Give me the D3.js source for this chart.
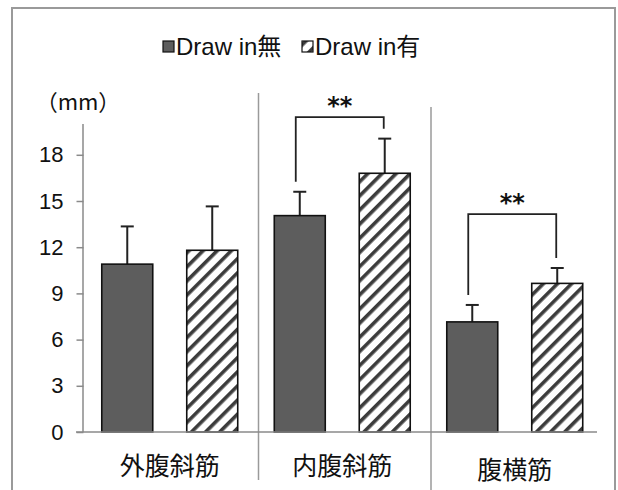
<!DOCTYPE html>
<html>
<head>
<meta charset="utf-8">
<script src="https://cdn.jsdelivr.net/npm/d3@7"></script>
<style>
  html, body { margin: 0; padding: 0; background: #fff; }
  svg { display: block; }
</style>
</head>
<body>
<svg id="chart" width="618" height="490"></svg>
<script>
// Muscle thickness (mm) with and without abdominal draw-in
const categories = ["外腹斜筋", "内腹斜筋", "腹横筋"];
const seriesNames = ["Draw in無", "Draw in有"];
const meansWithout = [10.9, 14.05, 7.15];
const meansWith = [11.8, 16.8, 9.65];
const sdWithout = [2.45, 1.55, 1.1];
const sdWith = [2.85, 2.25, 1.0];
const yTicks = [0, 3, 6, 9, 12, 15, 18];
// significance brackets: category index, bracket level (mm), label
const sigCategory = [1, 2];
const sigLevel = [20.45, 14.15];
const sigLabel = ["**", "**"];

const svg = d3.select("#chart");
const plot = { left: 83.5, right: 601, top: 124, bottom: 432 };

const y = d3.scaleLinear().domain([0, 20]).range([plot.bottom, plot.top]);
const x0 = d3.scaleBand().domain(categories).range([plot.left, plot.right])
  .paddingInner(0).paddingOuter(0);
const x1 = d3.scaleBand().domain(seriesNames).range([0, x0.bandwidth()])
  .paddingInner(0.4).paddingOuter(0.215);

// hatch pattern
const defs = svg.append("defs");
const pat = defs.append("pattern")
  .attr("id", "hatch")
  .attr("patternUnits", "userSpaceOnUse")
  .attr("width", 10).attr("height", 10)
  .attr("patternTransform", "rotate(45)");
pat.append("rect").attr("width", 10).attr("height", 10).attr("fill", "#fff");
pat.append("rect").attr("x", 0).attr("width", 3.6).attr("height", 10).attr("fill", "#3c3c3c");

const fills = ["#5d5d5d", "url(#hatch)"];

// outer frame
svg.append("rect")
  .attr("x", 12).attr("y", 8)
  .attr("width", 603).attr("height", 500)
  .attr("fill", "none")
  .attr("stroke", "#9a9a9a")
  .attr("stroke-width", 2);

// legend
const legendItems = [
  { name: seriesNames[0], fill: fills[0], x: 163 },
  { name: seriesNames[1], fill: fills[1], x: 302 }
];
const lg = svg.append("g").selectAll("g").data(legendItems).join("g")
  .attr("transform", d => `translate(${d.x},0)`);
lg.append("rect")
  .attr("x", 0).attr("y", 41).attr("width", 11).attr("height", 11)
  .attr("fill", d => d.fill)
  .attr("stroke", "#111").attr("stroke-width", 1.2);
lg.append("text")
  .attr("x", 13).attr("y", 55)
  .attr("font-family", "'Liberation Sans', 'Noto Sans CJK JP', sans-serif")
  .attr("font-size", 24)
  .attr("fill", "#111")
  .text(d => d.name);

// unit label
svg.append("text")
  .attr("x", 78).attr("y", 110)
  .attr("text-anchor", "middle")
  .attr("font-family", "'Noto Sans CJK JP', sans-serif")
  .attr("font-size", 22)
  .attr("fill", "#111")
  .text("（mm）");

// category dividers
const dividerTop = [93, 107];
categories.slice(0, 2).forEach((c, i) => {
  const xx = x0(c) + x0.bandwidth() + 2.5;
  svg.append("line")
    .attr("x1", xx).attr("x2", xx)
    .attr("y1", dividerTop[i]).attr("y2", i === 0 ? 480 : 492)
    .attr("stroke", "#9a9a9a").attr("stroke-width", 1.5);
});

// y axis
const yAxis = d3.axisLeft(y).tickValues(yTicks).tickSize(7).tickPadding(13);
const yg = svg.append("g").attr("transform", `translate(${plot.left},0)`).call(yAxis);
yg.select(".domain").attr("d", `M-0.5,${plot.top}V${plot.bottom}`)
  .attr("stroke", "#8a8a8a").attr("stroke-width", 1.5);
yg.selectAll(".tick line").attr("stroke", "#8a8a8a").attr("stroke-width", 1.5);
yg.selectAll(".tick text")
  .attr("font-family", "'Liberation Sans', Arial, sans-serif")
  .attr("font-size", 22)
  .attr("fill", "#111");

// bars
const rows = categories.map((c, i) => ({
  cat: c,
  vals: [
    { s: seriesNames[0], v: meansWithout[i], sd: sdWithout[i], k: 0 },
    { s: seriesNames[1], v: meansWith[i], sd: sdWith[i], k: 1 }
  ]
}));

const groups = svg.append("g").selectAll("g").data(rows).join("g")
  .attr("transform", d => `translate(${x0(d.cat)},0)`);

// error bars (drawn behind bar outline)
groups.selectAll("g.err").data(d => d.vals).join("g").attr("class", "err")
  .each(function(d) {
    const g = d3.select(this);
    const cx = x1(d.s) + x1.bandwidth() / 2;
    g.append("line")
      .attr("x1", cx).attr("x2", cx)
      .attr("y1", y(d.v)).attr("y2", y(d.v + d.sd))
      .attr("stroke", "#222").attr("stroke-width", 2);
    g.append("line")
      .attr("x1", cx - 6.5).attr("x2", cx + 6.5)
      .attr("y1", y(d.v + d.sd)).attr("y2", y(d.v + d.sd))
      .attr("stroke", "#222").attr("stroke-width", 2);
  });

groups.selectAll("rect.bar").data(d => d.vals).join("rect").attr("class", "bar")
  .attr("x", d => x1(d.s))
  .attr("y", d => y(d.v))
  .attr("width", x1.bandwidth())
  .attr("height", d => y(0) - y(d.v))
  .attr("fill", d => fills[d.k])
  .attr("stroke", "#111")
  .attr("stroke-width", 1.6);

// x axis baseline
svg.append("line")
  .attr("x1", 76).attr("x2", 597)
  .attr("y1", y(0)).attr("y2", y(0))
  .attr("stroke", "#8a8a8a").attr("stroke-width", 1.5);

// category labels
svg.append("g").selectAll("text").data(categories).join("text")
  .attr("x", d => x0(d) + x0.bandwidth() / 2)
  .attr("y", (d, i) => i === 2 ? 479 : 475)
  .attr("text-anchor", "middle")
  .attr("font-family", "'Noto Sans CJK JP', sans-serif")
  .attr("font-size", 25)
  .attr("fill", "#111")
  .text(d => d);

// significance brackets
sigCategory.forEach((ci, i) => {
  const r = rows[ci];
  const gx = x0(r.cat);
  const a = r.vals[0], b = r.vals[1];
  const xa = gx + x1(a.s) + x1.bandwidth() / 2 - 4;
  const xb = gx + x1(b.s) + x1.bandwidth() / 2 - 1;
  const yl = y(sigLevel[i]);
  const ya = y(a.v + a.sd) - 10;
  const yb = y(b.v + b.sd) - 10;
  svg.append("path")
    .attr("d", `M${xa},${ya}V${yl}H${xb}V${yb}`)
    .attr("fill", "none")
    .attr("stroke", "#222").attr("stroke-width", 1.8);
  svg.append("text")
    .attr("x", (xa + xb) / 2).attr("y", yl - 3)
    .attr("text-anchor", "middle")
    .attr("font-family", "'DejaVu Sans', sans-serif")
    .attr("font-weight", "bold")
    .attr("font-size", 24)
    .attr("fill", "#111")
    .text(sigLabel[i]);
});
</script>
</body>
</html>
